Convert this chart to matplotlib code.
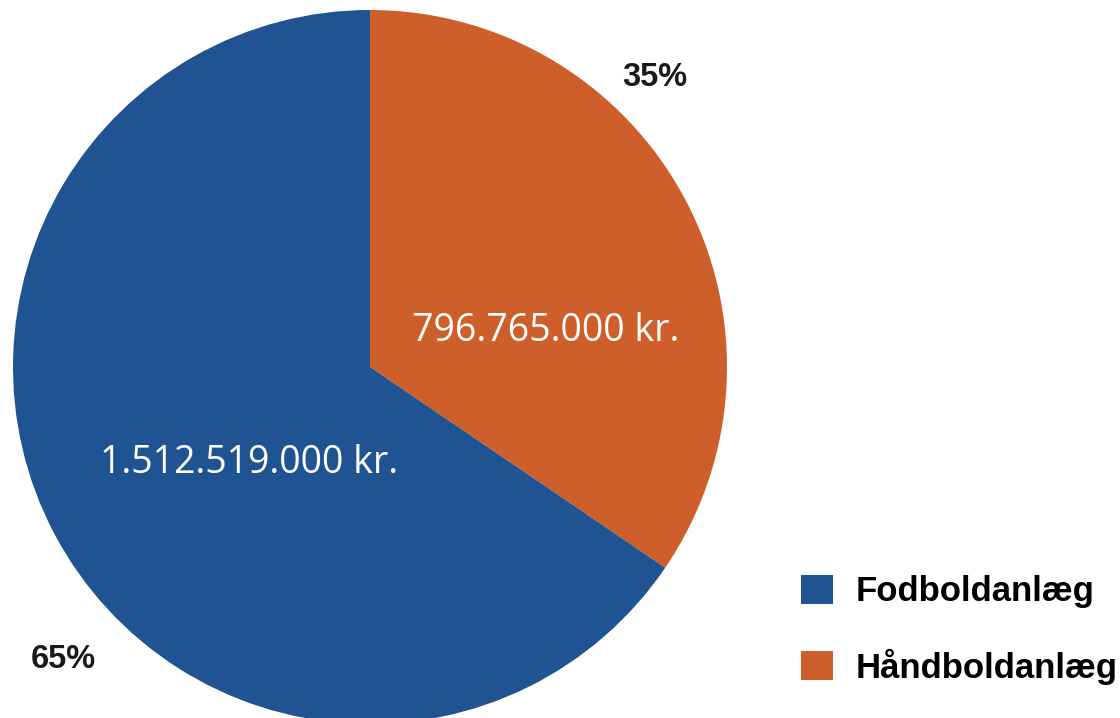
import matplotlib.pyplot as plt

# data
categories = ["Håndboldanlæg", "Fodboldanlæg"]
amounts = [796765000, 1512519000]
amount_labels = ["796.765.000 kr.", "1.512.519.000 kr."]
pct_labels = ["35%", "65%"]
colors = ["#CF5F2A", "#1F5391"]

fig = plt.figure(figsize=(11.2, 7.18), dpi=100)
ax = fig.add_axes([0, 0, 1, 1])

wedges, texts = ax.pie(amounts, colors=colors, startangle=90, counterclock=False,
                       center=(370, 351), radius=357, frame=True,
                       wedgeprops=dict(linewidth=0))
ax.set_xlim(0, 1120)
ax.set_ylim(0, 718)
ax.set_aspect("equal")
ax.axis("off")

# amount labels inside slices
ax.text(546, 718 - 331, amount_labels[0], color="white", fontsize=27,
        family="Open Sans", ha="center", va="center")
ax.text(249, 718 - 463, amount_labels[1], color="white", fontsize=27,
        family="Open Sans", ha="center", va="center")

# percent labels outside
ax.text(655, 718 - 78, pct_labels[0], fontsize=23.5, fontweight="bold",
        family="Liberation Sans", ha="center", va="center", color="#1a1a1a")
ax.text(63, 718 - 660, pct_labels[1], fontsize=23.5, fontweight="bold",
        family="Liberation Sans", ha="center", va="center", color="#1a1a1a")

leg = ax.legend([wedges[1], wedges[0]], [categories[1], categories[0]],
                loc="lower left", bbox_to_anchor=(770 / 1120, 2 / 718),
                frameon=False, handlelength=0.92, handleheight=0.92,
                handletextpad=0.66, labelspacing=1.16,
                prop=dict(family="Liberation Sans", weight="bold", size=25))

fig.savefig("out.png", dpi=100)
